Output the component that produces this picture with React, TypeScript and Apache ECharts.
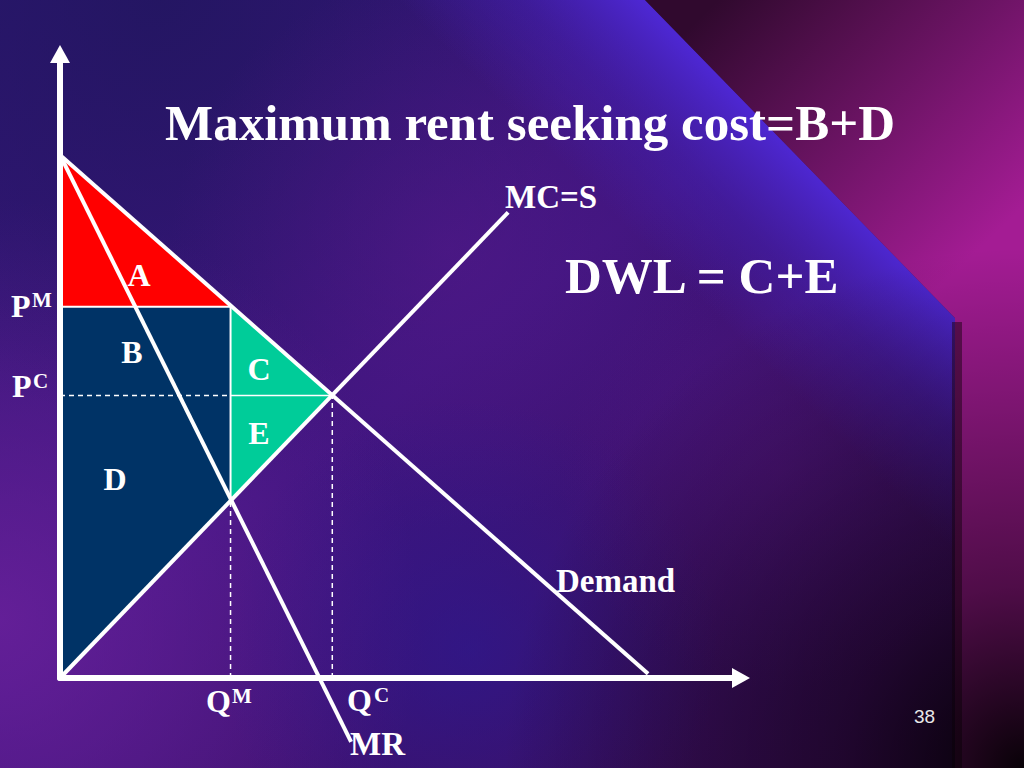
import React, { useEffect, useRef } from 'react';
import * as echarts from 'echarts';

// Axis extents (quantity, price)
const Q_MAX = 11.58;
const P_MAX = 11.93;

// Key values
const Q_M = 2.9;
const Q_C = 4.63;
const P_M = 7.1;
const P_C = 5.4;
const MC_AT_QM = 3.4;

// Curves
const demandPoints = [[0, 10], [10.0, 0.08]];
const mrPoints = [[0, 10], [4.95, -1.22]];
const mcPoints = [[0, 0], [7.62, 8.9]];

// Shaded areas
const areaA = [[0, 10], [0, P_M], [Q_M, P_M]];
const areaBD = [[0, 0], [0, P_M], [Q_M, P_M], [Q_M, MC_AT_QM]];
const areaCE = [[Q_M, P_M], [Q_C, P_C], [Q_M, MC_AT_QM]];

// Guide lines
const pcDashed = [[0, P_C], [Q_M, P_C]];
const pcSolid = [[Q_M, P_C], [Q_C, P_C]];
const pmEdge = [[0, P_M], [Q_M, P_M]];
const qmEdge = [[Q_M, P_M], [Q_M, MC_AT_QM]];
const qmDashed = [[Q_M, 0], [Q_M, MC_AT_QM]];
const qcDashed = [[Q_C, 0], [Q_C, P_C]];

const polySeries = (pts: number[][], color: string) => ({
  type: 'custom',
  coordinateSystem: 'cartesian2d',
  data: pts,
  silent: true,
  z: 1,
  renderItem: (params: any, api: any) => {
    if (params.dataIndex !== 0) return { type: 'group', children: [] };
    return {
      type: 'polygon',
      shape: { points: pts.map((p) => api.coord(p)) },
      style: { fill: color },
    };
  },
});

const lineSeries = (pts: number[][], width: number, type: any = 'solid', z = 3) => ({
  type: 'line',
  data: pts,
  symbol: 'none',
  showSymbol: false,
  clip: false,
  silent: true,
  z,
  lineStyle: { color: '#ffffff', width, type },
});

const SERIF = '"Liberation Serif", "Times New Roman", serif';

const txt = (text: string, x: number, y: number, size: number, align = 'left', bold = true, family = SERIF, fill = '#ffffff') => ({
  type: 'text',
  x,
  y,
  z: 20,
  silent: true,
  style: {
    text,
    fill,
    font: `${bold ? 'bold ' : ''}${size}px ${family}`,
    align,
    verticalAlign: 'middle',
    textAlign: align,
    textVerticalAlign: 'middle',
  },
});

const radial = (cx: number, cy: number, r: number, rgb: string, a: number, z = -10) => ({
  type: 'rect', z, silent: true,
  shape: { x: 0, y: 0, width: 1024, height: 768 },
  style: {
    fill: { type: 'radial', x: cx, y: cy, r, global: true,
      colorStops: [{ offset: 0, color: `rgba(${rgb},${a})` }, { offset: 1, color: `rgba(${rgb},0)` }] },
  },
});

const bgElements = [
  radial(0, 620, 420, '112,34,160', 0.75),
  radial(160, 0, 420, '34,22,96', 0.85),
  radial(450, 250, 280, '88,26,140', 0.5),
  radial(470, 650, 250, '40,26,150', 0.55),
  radial(780, 470, 220, '90,22,130', 0.45),
  // blue glow along the diagonal edge
  {
    type: 'polygon', z: -9, silent: true,
    shape: { points: [[400, 0], [645, 0], [955, 318], [955, 700], [400, 140]] },
    style: {
      fill: { type: 'linear', x: 800, y: 159, x2: 680, y2: 280, global: true,
        colorStops: [
          { offset: 0, color: 'rgba(78,40,214,0.95)' },
          { offset: 0.5, color: 'rgba(70,34,190,0.45)' },
          { offset: 1, color: 'rgba(70,34,190,0)' },
        ] },
    },
  },
  // magenta upper-right region
  {
    type: 'polygon', z: -8, silent: true,
    shape: { points: [[645, 0], [1024, 0], [1024, 768], [955, 768], [955, 318]] },
    style: {
      fill: { type: 'linear', x: 760, y: -40, x2: 1010, y2: 220, global: true,
        colorStops: [{ offset: 0, color: '#30092e' }, { offset: 0.55, color: '#6e1466' }, { offset: 1, color: '#a41c94' }] },
    },
  },
  // vertical dark edge
  {
    type: 'rect', z: -7, silent: true,
    shape: { x: 952, y: 322, width: 10, height: 446 },
    style: { fill: 'rgba(40,6,30,0.55)' },
  },
  // bottom-right darkening
  {
    type: 'rect', z: -6, silent: true,
    shape: { x: 0, y: 0, width: 1024, height: 768 },
    style: {
      fill: { type: 'radial', x: 1024, y: 768, r: 520, global: true,
        colorStops: [{ offset: 0, color: 'rgba(0,0,0,0.95)' }, { offset: 0.35, color: 'rgba(10,0,10,0.55)' }, { offset: 1, color: 'rgba(10,0,10,0)' }] },
    },
  },
];

const textElements = [
  txt('Maximum rent seeking cost=B+D', 165, 123, 51),
  txt('DWL = C+E', 565, 276, 51),
  txt('MC=S', 505, 197, 33),
  txt('Demand', 556, 581, 33),
  txt('A', 139, 275, 32, 'center'),
  txt('B', 132, 352, 32, 'center'),
  txt('C', 259, 369, 32, 'center'),
  txt('E', 259, 433, 32, 'center'),
  txt('D', 115, 479, 32, 'center'),
  txt('P', 11, 306, 32),
  txt('M', 32, 300, 21),
  txt('P', 12, 386, 32),
  txt('C', 33, 381, 21),
  txt('Q', 206, 701, 32),
  txt('M', 232, 696, 21),
  txt('Q', 347, 700, 32),
  txt('C', 374, 695, 21),
  txt('MR', 350, 744, 33),
  txt('38', 914, 716, 19, 'left', false, '"Liberation Sans", Arial, sans-serif', '#e8e8e8'),
];

export default function App() {
  const ref = useRef<HTMLDivElement>(null);
  useEffect(() => {
    if (!ref.current) return;
    const chart = echarts.init(ref.current, undefined, { renderer: 'svg' });
    const axisCommon = {
      type: 'value',
      z: 10,
      axisTick: { show: false },
      axisLabel: { show: false },
      splitLine: { show: false },
    };
    chart.setOption({
      animation: false,
      backgroundColor: {
        type: 'linear', x: 0, y: 0, x2: 1, y2: 1,
        colorStops: [
          { offset: 0, color: '#2c1670' },
          { offset: 0.45, color: '#3f157f' },
          { offset: 1, color: '#3a0c52' },
        ],
      },
      grid: { left: 60, right: 283, top: 54, bottom: 90, containLabel: false },
      xAxis: {
        ...axisCommon,
        min: 0,
        max: Q_MAX,
        axisLine: {
          show: true, onZero: false,
          symbol: ['none', 'triangle'], symbolSize: [20, 18],
          lineStyle: { color: '#ffffff', width: 6 },
        },
      },
      yAxis: {
        ...axisCommon,
        min: 0,
        max: P_MAX,
        axisLine: {
          show: true, onZero: false,
          symbol: ['none', 'triangle'], symbolSize: [20, 18],
          lineStyle: { color: '#ffffff', width: 6 },
        },
      },
      graphic: { elements: [...bgElements, ...textElements] },
      series: [
        polySeries(areaA, '#ff0000'),
        polySeries(areaBD, '#003366'),
        polySeries(areaCE, '#00cc99'),
        lineSeries(pcDashed, 1.5, [5, 4]),
        lineSeries(qmDashed, 1.5, [5, 4]),
        lineSeries(qcDashed, 1.5, [5, 4]),
        lineSeries(pcSolid, 1.5),
        lineSeries(pmEdge, 2),
        lineSeries(qmEdge, 2),
        lineSeries(demandPoints, 4, 'solid', 4),
        lineSeries(mcPoints, 4, 'solid', 4),
        lineSeries(mrPoints, 4, 'solid', 4),
      ],
    });
    return () => chart.dispose();
  }, []);
  return (
    <div
      ref={ref}
      style={{ position: 'fixed', left: 0, top: 0, width: 1024, height: 768 }}
    />
  );
}
